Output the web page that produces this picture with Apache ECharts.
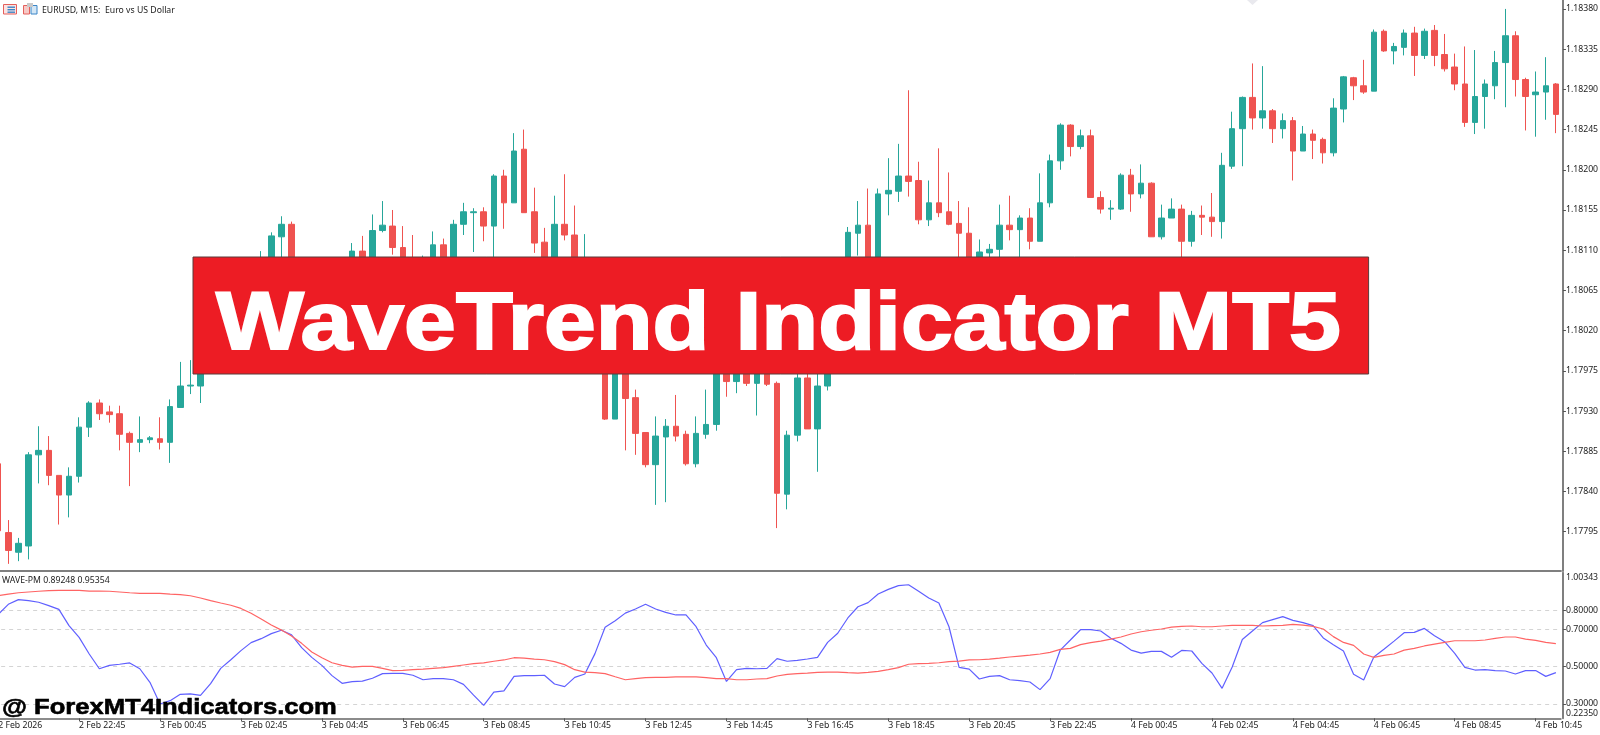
<!DOCTYPE html>
<html>
<head>
<meta charset="utf-8">
<title>WaveTrend Indicator MT5</title>
<style>html,body{margin:0;padding:0;background:#fff}#c{width:1600px;height:735px}</style>
<script src="https://cdn.jsdelivr.net/npm/echarts@6/dist/echarts.min.js"></script>
</head>
<body>
<div id="c"></div>
<script>
const opens=[1.17871,1.17794,1.17772,1.17779,1.17881,1.17886,1.17858,1.17836,1.17857,1.17912,
1.17939,1.17929,1.17927,1.17905,1.17895,1.17898,1.17899,1.17895,1.17934,1.17958,
1.17958,1.17981,1.18015,1.17998,1.18037,1.18065,1.18054,1.18093,1.18125,1.18139,
1.18088,1.18065,1.18082,1.18060,1.18076,1.18097,1.18109,1.18093,1.18132,1.18137,
1.18113,1.18090,1.18071,1.18088,1.18116,1.18097,1.18139,1.18152,1.18153,1.18137,
1.18193,1.18163,1.18223,1.18153,1.18119,1.18088,1.18139,1.18127,1.18054,1.18076,
1.18032,1.17921,1.17987,1.17945,1.17906,1.17870,1.17901,1.17913,1.17904,1.17871,
1.17904,1.17915,1.18009,1.17963,1.17987,1.17961,1.17985,1.17961,1.17837,1.17903,
1.17967,1.17910,1.17958,1.18009,1.18065,1.18129,1.18138,1.18071,1.18173,1.18176,
1.18193,1.18188,1.18144,1.18163,1.18153,1.18140,1.18129,1.18082,1.18107,1.18111,
1.18138,1.18133,1.18146,1.18120,1.18163,1.18210,1.18250,1.18226,1.18238,1.18169,
1.18156,1.18156,1.18194,1.18173,1.18185,1.18125,1.18146,1.18156,1.18120,1.18149,
1.18147,1.18142,1.18204,1.18246,1.18281,1.18258,1.18266,1.18246,1.18255,1.18221,
1.18240,1.18234,1.18219,1.18268,1.18303,1.18294,1.18288,1.18355,1.18333,1.18337,
1.18353,1.18328,1.18356,1.18329,1.18315,1.18296,1.18253,1.18282,1.18294,1.18320,
1.18350,1.18301,1.18284,1.18287,1.18296];
const closes=[1.17796,1.17774,1.17782,1.17881,1.17886,1.17858,1.17836,1.17857,1.17912,1.17939,
1.17927,1.17926,1.17904,1.17895,1.17898,1.17900,1.17895,1.17935,1.17958,1.17959,
1.17981,1.18015,1.17998,1.18037,1.18065,1.18054,1.18093,1.18126,1.18139,1.18088,
1.18065,1.18082,1.18060,1.18076,1.18097,1.18109,1.18093,1.18132,1.18138,1.18113,
1.18090,1.18076,1.18088,1.18116,1.18097,1.18139,1.18153,1.18153,1.18137,1.18193,
1.18163,1.18221,1.18152,1.18118,1.18088,1.18139,1.18127,1.18082,1.18088,1.18032,
1.17921,1.17987,1.17944,1.17905,1.17870,1.17902,1.17913,1.17902,1.17871,1.17905,
1.17915,1.18009,1.17963,1.17987,1.17961,1.17985,1.17960,1.17838,1.17903,1.17967,
1.17910,1.17958,1.18009,1.18065,1.18130,1.18138,1.18071,1.18173,1.18177,1.18193,
1.18187,1.18144,1.18163,1.18152,1.18139,1.18129,1.18082,1.18108,1.18111,1.18138,
1.18133,1.18146,1.18120,1.18163,1.18210,1.18250,1.18226,1.18238,1.18169,1.18156,
1.18157,1.18194,1.18173,1.18185,1.18125,1.18146,1.18156,1.18120,1.18149,1.18147,
1.18142,1.18205,1.18246,1.18281,1.18258,1.18266,1.18246,1.18255,1.18221,1.18240,
1.18233,1.18219,1.18269,1.18304,1.18294,1.18287,1.18354,1.18333,1.18338,1.18353,
1.18328,1.18355,1.18328,1.18313,1.18296,1.18253,1.18282,1.18296,1.18320,1.18350,
1.18301,1.18282,1.18287,1.18294,1.18262];
const lows=[1.17780,1.17759,1.17762,1.17764,1.17849,1.17847,1.17803,1.17811,1.17850,1.17901,
1.17920,1.17917,1.17886,1.17846,1.17884,1.17894,1.17887,1.17872,1.17934,1.17949,
1.17939,1.17973,1.17987,1.17987,1.18029,1.18043,1.18048,1.18085,1.18088,1.18076,
1.18054,1.18054,1.18048,1.18054,1.18071,1.18090,1.18085,1.18088,1.18130,1.18105,
1.18082,1.18065,1.18060,1.18082,1.18088,1.18090,1.18127,1.18108,1.18120,1.18088,
1.18134,1.18163,1.18152,1.18107,1.18076,1.18082,1.18121,1.18071,1.18048,1.18020,
1.17920,1.17921,1.17886,1.17881,1.17867,1.17825,1.17828,1.17896,1.17869,1.17867,
1.17899,1.17908,1.17946,1.17950,1.17958,1.17925,1.17958,1.17799,1.17820,1.17896,
1.17910,1.17862,1.17953,1.18004,1.18060,1.18104,1.18060,1.18065,1.18149,1.18164,
1.18170,1.18139,1.18137,1.18147,1.18138,1.18088,1.18071,1.18076,1.18097,1.18097,
1.18121,1.18093,1.18111,1.18120,1.18158,1.18200,1.18215,1.18223,1.18169,1.18151,
1.18144,1.18155,1.18153,1.18168,1.18125,1.18122,1.18146,1.18097,1.18114,1.18127,
1.18125,1.18123,1.18201,1.18204,1.18245,1.18246,1.18230,1.18235,1.18188,1.18221,
1.18212,1.18207,1.18215,1.18253,1.18278,1.18285,1.18288,1.18332,1.18318,1.18328,
1.18305,1.18324,1.18316,1.18310,1.18289,1.18248,1.18240,1.18246,1.18279,1.18270,
1.18282,1.18244,1.18237,1.18256,1.18241];
const highs=[1.17873,1.17808,1.17788,1.17884,1.17913,1.17902,1.17858,1.17867,1.17923,1.17941,
1.17943,1.17936,1.17936,1.17907,1.17924,1.17902,1.17923,1.17943,1.17985,1.17987,
1.17998,1.18020,1.18026,1.18048,1.18076,1.18076,1.18109,1.18130,1.18148,1.18142,
1.18093,1.18090,1.18088,1.18085,1.18101,1.18118,1.18126,1.18150,1.18165,1.18155,
1.18137,1.18127,1.18104,1.18131,1.18123,1.18144,1.18163,1.18157,1.18158,1.18195,
1.18200,1.18241,1.18245,1.18180,1.18135,1.18171,1.18195,1.18160,1.18128,1.18082,
1.18054,1.17998,1.17998,1.17954,1.17906,1.17924,1.17921,1.17948,1.17908,1.17924,
1.17954,1.18020,1.18020,1.17998,1.17996,1.17998,1.17992,1.17963,1.17908,1.17976,
1.17976,1.17976,1.18020,1.18076,1.18136,1.18165,1.18179,1.18179,1.18213,1.18229,
1.18289,1.18209,1.18188,1.18224,1.18197,1.18165,1.18158,1.18122,1.18117,1.18161,
1.18171,1.18149,1.18157,1.18196,1.18217,1.18252,1.18251,1.18245,1.18245,1.18176,
1.18166,1.18196,1.18201,1.18206,1.18186,1.18161,1.18168,1.18161,1.18154,1.18160,
1.18174,1.18219,1.18265,1.18282,1.18319,1.18316,1.18268,1.18263,1.18259,1.18249,
1.18245,1.18236,1.18280,1.18305,1.18304,1.18323,1.18357,1.18357,1.18342,1.18357,
1.18360,1.18358,1.18362,1.18352,1.18330,1.18338,1.18334,1.18301,1.18333,1.18380,
1.18355,1.18303,1.18310,1.18326,1.18297];
const wavePm=[.780,.834,.859,.854,.845,.827,.807,.720,.657,.568,.489,.507,.513,.520,.489,.416,.300,.318,.352,.354,
.346,.409,.491,.537,.586,.629,.650,.677,.695,.671,.602,.550,.507,.452,.411,.420,.423,.438,.463,.464,
.464,.454,.430,.436,.436,.430,.405,.348,.293,.364,.370,.448,.452,.452,.454,.407,.393,.443,.461,.570,
.711,.746,.787,.809,.834,.809,.791,.777,.777,.714,.616,.548,.421,.484,.491,.489,.491,.543,.529,.534,
.541,.550,.630,.679,.761,.821,.843,.889,.914,.934,.939,.904,.868,.841,.714,.496,.487,.434,.448,.452,
.430,.425,.418,.377,.436,.589,.643,.698,.698,.691,.652,.625,.589,.573,.582,.582,.550,.587,.584,.518,
.466,.384,.498,.646,.691,.736,.752,.768,.748,.736,.720,.654,.618,.584,.459,.429,.552,.593,.637,.682,
.684,.705,.666,.634,.571,.496,.482,.484,.479,.477,.461,.479,.479,.448,.468];
const waveSignal=[.880,.889,.896,.900,.904,.907,.909,.909,.909,.905,.905,.904,.900,.896,.893,.893,.893,.889,.886,.880,
.868,.854,.841,.829,.812,.786,.755,.723,.696,.664,.625,.579,.548,.521,.507,.498,.502,.502,.491,.479,
.480,.484,.487,.491,.495,.502,.509,.516,.520,.529,.536,.548,.546,.541,.537,.527,.511,.484,.471,.468,
.463,.446,.430,.436,.441,.443,.443,.445,.446,.445,.441,.436,.436,.430,.430,.434,.436,.450,.459,.463,
.466,.470,.471,.471,.468,.466,.470,.475,.484,.495,.513,.516,.518,.521,.527,.530,.536,.537,.541,.546,
.552,.557,.562,.568,.577,.593,.598,.618,.629,.637,.648,.659,.675,.687,.695,.702,.712,.716,.718,.714,
.714,.718,.721,.721,.721,.718,.720,.721,.727,.723,.716,.702,.661,.630,.614,.568,.550,.561,.568,.589,
.598,.611,.621,.630,.639,.639,.639,.643,.652,.659,.659,.648,.641,.630,.623];
const timeLabels=['2 Feb 2026','2 Feb 22:45','3 Feb 00:45','3 Feb 02:45','3 Feb 04:45','3 Feb 06:45','3 Feb 08:45','3 Feb 10:45','3 Feb 12:45','3 Feb 14:45','3 Feb 16:45','3 Feb 18:45','3 Feb 20:45','3 Feb 22:45','4 Feb 00:45','4 Feb 02:45','4 Feb 04:45','4 Feb 06:45','4 Feb 08:45','4 Feb 10:45'];
const priceTicks=[1.17795,1.17840,1.17885,1.17930,1.17975,1.18020,1.18065,1.18110,1.18155,1.18200,1.18245,1.18290,1.18335,1.18380];
const waveLabels=[0.22350,0.30000,0.50000,0.70000,0.80000,1.00343];
const waveLevels=[0.3,0.5,0.7,0.8];
const ohlc=opens.map((o,i)=>[o,closes[i],lows[i],highs[i]]);
const categories=opens.map((_,i)=>i%8===0?timeLabels[i/8]:String(i));

const TXT='#222', FONT='"Noto Sans"', AXIS='#7f7f7f';
const UP='#26a69a', DOWN='#ef5350';
const gridLeft=-6.86, gridWidth=1567.8;
const chart=echarts.init(document.getElementById('c'),null,{renderer:'canvas'});
chart.setOption({
  animation:false,
  backgroundColor:'#fff',
  grid:[
    {left:gridLeft,width:gridWidth,top:0,height:571,outerBoundsMode:'none'},
    {left:gridLeft,width:gridWidth,top:572.7,height:145.6,outerBoundsMode:'none'}
  ],
  xAxis:[
    {type:'category',gridIndex:0,data:categories,boundaryGap:true,
     axisLine:{show:true,lineStyle:{color:AXIS,width:2}},axisTick:{show:false},axisLabel:{show:false},splitLine:{show:false}},
    {type:'category',gridIndex:1,data:categories,boundaryGap:true,
     axisLine:{show:true,lineStyle:{color:'#666',width:1.5}},
     axisTick:{show:true,alignWithLabel:true,length:3,interval:(i)=>i%8===0,lineStyle:{color:'#555'}},
     axisLabel:{show:true,interval:(i)=>i%8===0,align:'left',margin:3,color:TXT,fontFamily:FONT,fontSize:8.7,hideOverlap:false},
     splitLine:{show:false}}
  ],
  yAxis:[
    {type:'value',gridIndex:0,position:'right',offset:2,min:1.17751,max:1.1839,scale:true,
     axisLine:{show:true,onZero:false,lineStyle:{color:AXIS,width:2}},
     axisTick:{show:true,length:3,customValues:priceTicks,lineStyle:{color:'#555'}},
     axisLabel:{show:true,margin:3,customValues:priceTicks,formatter:(v)=>v.toFixed(5),color:TXT,fontFamily:FONT,fontSize:8.7,padding:[2,0,0,0]},
     splitLine:{show:false}},
    {type:'value',gridIndex:1,position:'right',offset:2,min:0.2235,max:1.00343,scale:true,
     axisLine:{show:true,onZero:false,lineStyle:{color:AXIS,width:2}},
     axisTick:{show:true,length:3,customValues:waveLevels,lineStyle:{color:'#555'}},
     axisLabel:{show:true,margin:3,customValues:waveLabels,formatter:(v)=>v.toFixed(5),color:TXT,fontFamily:FONT,fontSize:8.7,
       verticalAlignMaxLabel:'top',verticalAlignMinLabel:'bottom'},
     splitLine:{show:true,lineStyle:{color:'#d4d4d4',type:[4,4],width:1}}}
  ],
  series:[
    {type:'candlestick',name:'EURUSD',xAxisIndex:0,yAxisIndex:0,data:ohlc,barWidth:6,
     itemStyle:{color:UP,color0:DOWN,borderColor:UP,borderColor0:DOWN,borderColorDoji:UP,borderWidth:1}},
    {type:'line',name:'WAVE-PM',xAxisIndex:1,yAxisIndex:1,data:wavePm,showSymbol:false,smooth:false,
     lineStyle:{color:'#5f5fff',width:1.2},z:3},
    {type:'line',name:'Signal',xAxisIndex:1,yAxisIndex:1,data:waveSignal,showSymbol:false,smooth:false,
     lineStyle:{color:'#ff6464',width:1.2},z:4}
  ],
  graphic:[
    {type:'text',z:50,style:{text:'EURUSD, M15:  Euro vs US Dollar',x:42,y:10.5,textVerticalAlign:'middle',fill:TXT,font:'8.7px "Noto Sans"'}},
    {type:'rect',z:50,shape:{x:3.5,y:4.5,width:13,height:9.5},style:{fill:'#fbe3e3',stroke:'#e4605c',lineWidth:1}},
    {type:'rect',z:51,shape:{x:7.5,y:6.5,width:7.5,height:1.4},style:{fill:'#3a86c8'}},
    {type:'rect',z:51,shape:{x:7.5,y:9,width:7.5,height:1.4},style:{fill:'#3a86c8'}},
    {type:'rect',z:51,shape:{x:7.5,y:11.5,width:7.5,height:1.4},style:{fill:'#3a86c8'}},
    {type:'rect',z:50,shape:{x:23.5,y:5.5,width:6,height:8.5},style:{fill:'#f7c9c6',stroke:'#e4605c',lineWidth:1}},
    {type:'rect',z:50,shape:{x:31,y:5.5,width:6,height:8.5},style:{fill:'#d3e6f5',stroke:'#3a86c8',lineWidth:1}},
    {type:'rect',z:51,shape:{x:27,y:3,width:6,height:4},style:{fill:'#c9c9c9'}},
    {type:'polygon',z:50,shape:{points:[[1247,0],[1258,0],[1252.5,5]]},style:{fill:'#e9e9ee'}},
    {type:'text',z:50,style:{text:'WAVE-PM 0.89248 0.95354',x:2,y:580.7,textVerticalAlign:'middle',fill:TXT,font:'8.7px "Noto Sans"'}},
    {type:'rect',z:60,shape:{x:193,y:257,width:1175.6,height:117},style:{fill:'#ed1c24',stroke:'#5a3a3a',lineWidth:1}},
    {type:'text',z:61,x:216,y:326,scaleX:1.136,style:{text:'WaveTrend Indicator MT5',x:0,y:0,textAlign:'left',textVerticalAlign:'middle',fill:'#fff',stroke:'#fff',lineWidth:2,font:'bold 82px "Liberation Sans"'}},
    {type:'text',z:61,x:2,y:707.5,scaleX:1.137,style:{text:'@ ForexMT4Indicators.com',x:0,y:0,textAlign:'left',textVerticalAlign:'middle',fill:'#000',stroke:'#000',lineWidth:0.6,font:'bold 22.5px "Liberation Sans"'}}
  ]
});
</script>
</body>
</html>
